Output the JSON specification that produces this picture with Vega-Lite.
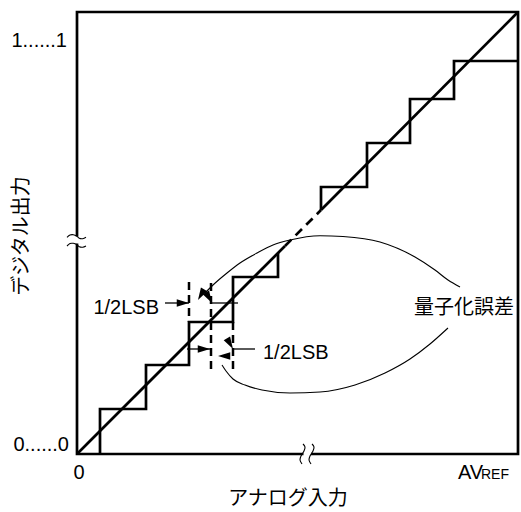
{
  "$schema": "https://vega.github.io/schema/vega-lite/v6.json",
  "width": 441,
  "height": 442,
  "autosize": {"type": "none"},
  "padding": {"left": 77, "top": 12, "right": 3, "bottom": 58},
  "background": "white",
  "config": {"view": {"stroke": "black", "strokeWidth": 2.7}},
  "datasets": {
    "lines": [
      {"s": "low", "i": 0, "x": 23, "y": 0},
      {"s": "low", "i": 1, "x": 23, "y": 45},
      {"s": "low", "i": 2, "x": 69, "y": 45},
      {"s": "low", "i": 3, "x": 69, "y": 89},
      {"s": "low", "i": 4, "x": 112, "y": 89},
      {"s": "low", "i": 5, "x": 112, "y": 132},
      {"s": "low", "i": 6, "x": 156, "y": 132},
      {"s": "low", "i": 7, "x": 156, "y": 177},
      {"s": "low", "i": 8, "x": 201, "y": 177},
      {"s": "low", "i": 9, "x": 201, "y": 201},
      {"s": "high", "i": 0, "x": 244, "y": 244},
      {"s": "high", "i": 1, "x": 244, "y": 267},
      {"s": "high", "i": 2, "x": 290, "y": 267},
      {"s": "high", "i": 3, "x": 290, "y": 311},
      {"s": "high", "i": 4, "x": 333, "y": 311},
      {"s": "high", "i": 5, "x": 333, "y": 355},
      {"s": "high", "i": 6, "x": 377, "y": 355},
      {"s": "high", "i": 7, "x": 377, "y": 393},
      {"s": "high", "i": 8, "x": 441, "y": 393},
      {"s": "d1", "i": 0, "x": 0, "y": 0},
      {"s": "d1", "i": 1, "x": 208, "y": 208},
      {"s": "d2", "i": 0, "x": 208, "y": 208},
      {"s": "d2", "i": 1, "x": 244, "y": 244},
      {"s": "d3", "i": 0, "x": 244, "y": 244},
      {"s": "d3", "i": 1, "x": 441, "y": 442},
      {"s": "cu", "i": 0, "x": 383, "y": 167},
      {"s": "cu", "i": 1, "x": 371, "y": 174},
      {"s": "cu", "i": 2, "x": 358, "y": 184},
      {"s": "cu", "i": 3, "x": 338, "y": 197},
      {"s": "cu", "i": 4, "x": 303, "y": 212},
      {"s": "cu", "i": 5, "x": 266, "y": 217.5},
      {"s": "cu", "i": 6, "x": 243, "y": 218.3},
      {"s": "cu", "i": 7, "x": 213, "y": 214},
      {"s": "cu", "i": 8, "x": 196, "y": 209},
      {"s": "cu", "i": 9, "x": 180, "y": 201},
      {"s": "cu", "i": 10, "x": 163, "y": 191},
      {"s": "cu", "i": 11, "x": 150, "y": 181},
      {"s": "cu", "i": 12, "x": 136, "y": 169},
      {"s": "cu", "i": 13, "x": 128, "y": 161},
      {"s": "cl", "i": 0, "x": 371, "y": 126},
      {"s": "cl", "i": 1, "x": 353, "y": 110},
      {"s": "cl", "i": 2, "x": 333, "y": 95},
      {"s": "cl", "i": 3, "x": 308, "y": 81},
      {"s": "cl", "i": 4, "x": 278, "y": 69},
      {"s": "cl", "i": 5, "x": 243, "y": 62},
      {"s": "cl", "i": 6, "x": 213, "y": 61},
      {"s": "cl", "i": 7, "x": 185, "y": 64},
      {"s": "cl", "i": 8, "x": 168, "y": 69},
      {"s": "cl", "i": 9, "x": 156, "y": 75},
      {"s": "cl", "i": 10, "x": 149, "y": 83},
      {"s": "cl", "i": 11, "x": 145, "y": 89},
      {"s": "w1", "i": 0, "x": -10, "y": 216.7},
      {"s": "w1", "i": 1, "x": -7, "y": 219},
      {"s": "w1", "i": 2, "x": -3.7, "y": 219.3},
      {"s": "w1", "i": 3, "x": -0.3, "y": 218},
      {"s": "w1", "i": 4, "x": 2.3, "y": 215.7},
      {"s": "w1", "i": 5, "x": 5.7, "y": 215.3},
      {"s": "w1", "i": 6, "x": 9, "y": 216.7},
      {"s": "w2", "i": 0, "x": -10, "y": 208},
      {"s": "w2", "i": 1, "x": -7, "y": 210.5},
      {"s": "w2", "i": 2, "x": -3.7, "y": 210.7},
      {"s": "w2", "i": 3, "x": -0.3, "y": 209.5},
      {"s": "w2", "i": 4, "x": 2.3, "y": 207.3},
      {"s": "w2", "i": 5, "x": 5.7, "y": 206.8},
      {"s": "w2", "i": 6, "x": 9, "y": 208},
      {"s": "w3", "i": 0, "x": 226, "y": 10},
      {"s": "w3", "i": 1, "x": 228, "y": 7},
      {"s": "w3", "i": 2, "x": 227, "y": 3},
      {"s": "w3", "i": 3, "x": 224, "y": -2},
      {"s": "w3", "i": 4, "x": 223, "y": -6},
      {"s": "w3", "i": 5, "x": 225, "y": -10},
      {"s": "w4", "i": 0, "x": 235, "y": 10},
      {"s": "w4", "i": 1, "x": 237, "y": 7},
      {"s": "w4", "i": 2, "x": 236, "y": 3},
      {"s": "w4", "i": 3, "x": 233, "y": -2},
      {"s": "w4", "i": 4, "x": 232, "y": -6},
      {"s": "w4", "i": 5, "x": 234, "y": -10}
    ],
    "gaps": [
      {"x": -2.5, "x2": 2.5, "y": 210.5, "y2": 217.5},
      {"x": 226.5, "x2": 234, "y": -2.5, "y2": 2.5}
    ],
    "vrules": [
      {"x": 112, "y": 172, "y2": 132},
      {"x": 134, "y": 171, "y2": 84},
      {"x": 156, "y": 132, "y2": 84}
    ],
    "hrules": [
      {"x": 88, "x2": 112, "y": 151},
      {"x": 135, "x2": 161, "y": 151},
      {"x": 110, "x2": 133, "y": 105},
      {"x": 156, "x2": 178, "y": 105}
    ],
    "heads": [
      {"x": 112, "y": 151, "dir": "R"},
      {"x": 135, "y": 151, "dir": "L"},
      {"x": 133, "y": 105, "dir": "R"},
      {"x": 156, "y": 105, "dir": "L"},
      {"x": 121, "y": 154, "dir": "DL"},
      {"x": 141, "y": 98, "dir": "UL"}
    ],
    "labels": [
      {"k": "r", "t": "1......1", "x": -10, "y": 407.3},
      {"k": "r", "t": "0......0", "x": -8, "y": 3.3},
      {"k": "r", "t": "1/2LSB", "x": 82, "y": 140.5},
      {"k": "l", "t": "1/2LSB", "x": 186, "y": 95},
      {"k": "c", "t": "0", "x": 2, "y": -25.3},
      {"k": "l", "t": "AV", "x": 381, "y": -25.3},
      {"k": "s", "t": "REF", "x": 404, "y": -25.3}
    ],
    "jp": [
      {"k": "n", "t": "量子化誤差", "x": 387, "y": 146},
      {"k": "n", "t": "アナログ入力", "x": 211, "y": -45},
      {"k": "v", "t": "デジタル出力", "x": -55, "y": 218}
    ]
  },
  "encoding": {
    "x": {"field": "x", "type": "quantitative", "scale": {"domain": [0, 441], "nice": false, "zero": false}, "axis": null},
    "y": {"field": "y", "type": "quantitative", "scale": {"domain": [0, 442], "nice": false, "zero": false}, "axis": null}
  },
  "layer": [
    {
      "data": {"name": "lines"},
      "transform": [{"filter": "datum.s == 'low' || datum.s == 'high' || datum.s == 'd1' || datum.s == 'd3'"}],
      "mark": {"type": "line", "color": "black", "strokeWidth": 2.7, "strokeJoin": "miter"},
      "encoding": {"detail": {"field": "s"}, "order": {"field": "i", "type": "quantitative"}}
    },
    {
      "data": {"name": "lines"},
      "transform": [{"filter": "datum.s == 'd2'"}],
      "mark": {"type": "line", "color": "black", "strokeWidth": 2.7, "strokeDash": [9, 6]},
      "encoding": {"order": {"field": "i", "type": "quantitative"}}
    },
    {
      "data": {"name": "lines"},
      "transform": [{"filter": "datum.s == 'cu' || datum.s == 'cl'"}],
      "mark": {"type": "line", "color": "black", "strokeWidth": 1.1, "interpolate": "monotone"},
      "encoding": {"detail": {"field": "s"}}
    },
    {
      "data": {"name": "gaps"},
      "mark": {"type": "rect", "color": "white"},
      "encoding": {"x2": {"field": "x2"}, "y2": {"field": "y2"}}
    },
    {
      "data": {"name": "lines"},
      "transform": [{"filter": "datum.s == 'w1' || datum.s == 'w2' || datum.s == 'w3' || datum.s == 'w4'"}],
      "mark": {"type": "line", "color": "black", "strokeWidth": 1.1, "interpolate": "cardinal"},
      "encoding": {"detail": {"field": "s"}, "order": {"field": "i", "type": "quantitative"}}
    },
    {
      "data": {"name": "vrules"},
      "mark": {"type": "rule", "color": "black", "strokeWidth": 2.5, "strokeDash": [8, 5]},
      "encoding": {"y2": {"field": "y2"}}
    },
    {
      "data": {"name": "hrules"},
      "mark": {"type": "rule", "color": "black", "strokeWidth": 1.3},
      "encoding": {"x2": {"field": "x2"}}
    },
    {
      "data": {"name": "heads"},
      "mark": {"type": "point", "shape": "M0,0L0.3,1L-0.3,1Z", "filled": true, "color": "black", "opacity": 1, "size": 600, "strokeWidth": 0},
      "encoding": {
        "angle": {"field": "dir", "type": "nominal", "scale": {"domain": ["R", "L", "DL", "UL"], "range": [90, 270, 225, 330]}, "legend": null}
      }
    },
    {
      "data": {"name": "labels"},
      "transform": [{"filter": "datum.k == 'r'"}],
      "mark": {"type": "text", "align": "right", "baseline": "alphabetic", "font": "Liberation Sans", "fontSize": 20, "color": "black"},
      "encoding": {"text": {"field": "t"}}
    },
    {
      "data": {"name": "labels"},
      "transform": [{"filter": "datum.k == 'l'"}],
      "mark": {"type": "text", "align": "left", "baseline": "alphabetic", "font": "Liberation Sans", "fontSize": 20, "color": "black"},
      "encoding": {"text": {"field": "t"}}
    },
    {
      "data": {"name": "labels"},
      "transform": [{"filter": "datum.k == 'c'"}],
      "mark": {"type": "text", "align": "center", "baseline": "alphabetic", "font": "Liberation Sans", "fontSize": 20, "color": "black"},
      "encoding": {"text": {"field": "t"}}
    },
    {
      "data": {"name": "labels"},
      "transform": [{"filter": "datum.k == 's'"}],
      "mark": {"type": "text", "align": "left", "baseline": "alphabetic", "font": "Liberation Sans", "fontSize": 14, "color": "black"},
      "encoding": {"text": {"field": "t"}}
    },
    {
      "data": {"name": "jp"},
      "transform": [{"filter": "datum.k == 'n'"}],
      "mark": {"type": "text", "align": "center", "baseline": "middle", "font": "Noto Sans CJK JP", "fontSize": 20, "color": "black"},
      "encoding": {"text": {"field": "t"}}
    },
    {
      "data": {"name": "jp"},
      "transform": [{"filter": "datum.k == 'v'"}],
      "mark": {"type": "text", "align": "center", "baseline": "middle", "angle": 270, "font": "Noto Sans CJK JP", "fontSize": 20, "color": "black"},
      "encoding": {"text": {"field": "t"}}
    }
  ]
}
